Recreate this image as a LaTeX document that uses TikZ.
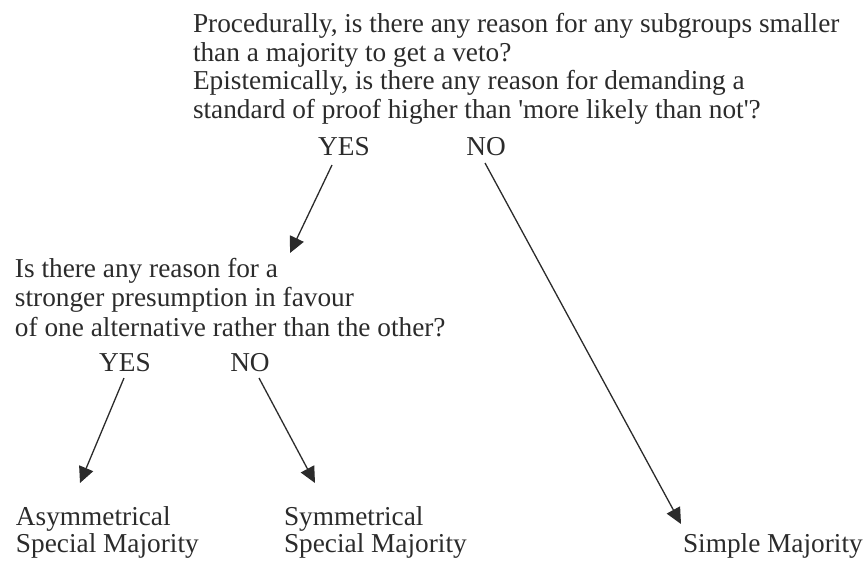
\documentclass[tikz,border=0pt]{standalone}
\usepackage{fontspec}
\setmainfont{Liberation Serif}
\usetikzlibrary{arrows.meta}
\definecolor{ink}{HTML}{2B2B2B}
\begin{document}
\begin{tikzpicture}[x=1pt,y=-1pt,
  txt/.style={inner sep=0pt,outer sep=0pt,anchor=base west,align=left,text=ink},
  lbl/.style={inner sep=0pt,outer sep=0pt,anchor=base,text=ink},
  arr/.style={draw=ink,line width=1.3pt,-{Triangle[length=16pt,width=15pt]}}]
\useasboundingbox (0,0) rectangle (868,563);
\node[txt,font=\fontsize{27.3}{28.5}\selectfont] (q1) at (193,118)
  {Procedurally, is there any reason for any subgroups smaller\\
   than a majority to get a veto?\\
   Epistemically, is there any reason for demanding a\\
   standard of proof higher than \textquotesingle more likely than not\textquotesingle?};
\node[lbl,font=\fontsize{27.3}{28.5}\selectfont] (yes1) at (344,155) {YES};
\node[lbl,font=\fontsize{27.3}{28.5}\selectfont] (no1) at (486,155) {NO};
\node[txt,font=\fontsize{27.3}{29.5}\selectfont] (q2) at (15,336)
  {Is there any reason for a\\
   stronger presumption in favour\\
   of one alternative rather than the other?};
\node[lbl,font=\fontsize{27.3}{28.5}\selectfont] (yes2) at (125,371) {YES};
\node[lbl,font=\fontsize{27.3}{28.5}\selectfont] (no2) at (250,371) {NO};
\node[txt,font=\fontsize{27.3}{27}\selectfont] (asym) at (16,552)
  {Asymmetrical\\Special Majority};
\node[txt,font=\fontsize{27.3}{27}\selectfont] (sym) at (284,552)
  {Symmetrical\\Special Majority};
\node[txt,font=\fontsize{27.3}{27}\selectfont] (simple) at (683,552)
  {Simple Majority};
\coordinate (t1) at (290,253);
\coordinate (t2) at (681,524);
\coordinate (t3) at (80,483);
\coordinate (t4) at (315,483);
\draw[arr] ([shift={(-12,10)}]yes1.base) -- (t1);
\draw[arr] ([shift={(-1,8)}]no1.base) -- (t2);
\draw[arr] ([shift={(-1,7)}]yes2.base) -- (t3);
\draw[arr] ([shift={(9,7)}]no2.base) -- (t4);
\end{tikzpicture}
\end{document}
